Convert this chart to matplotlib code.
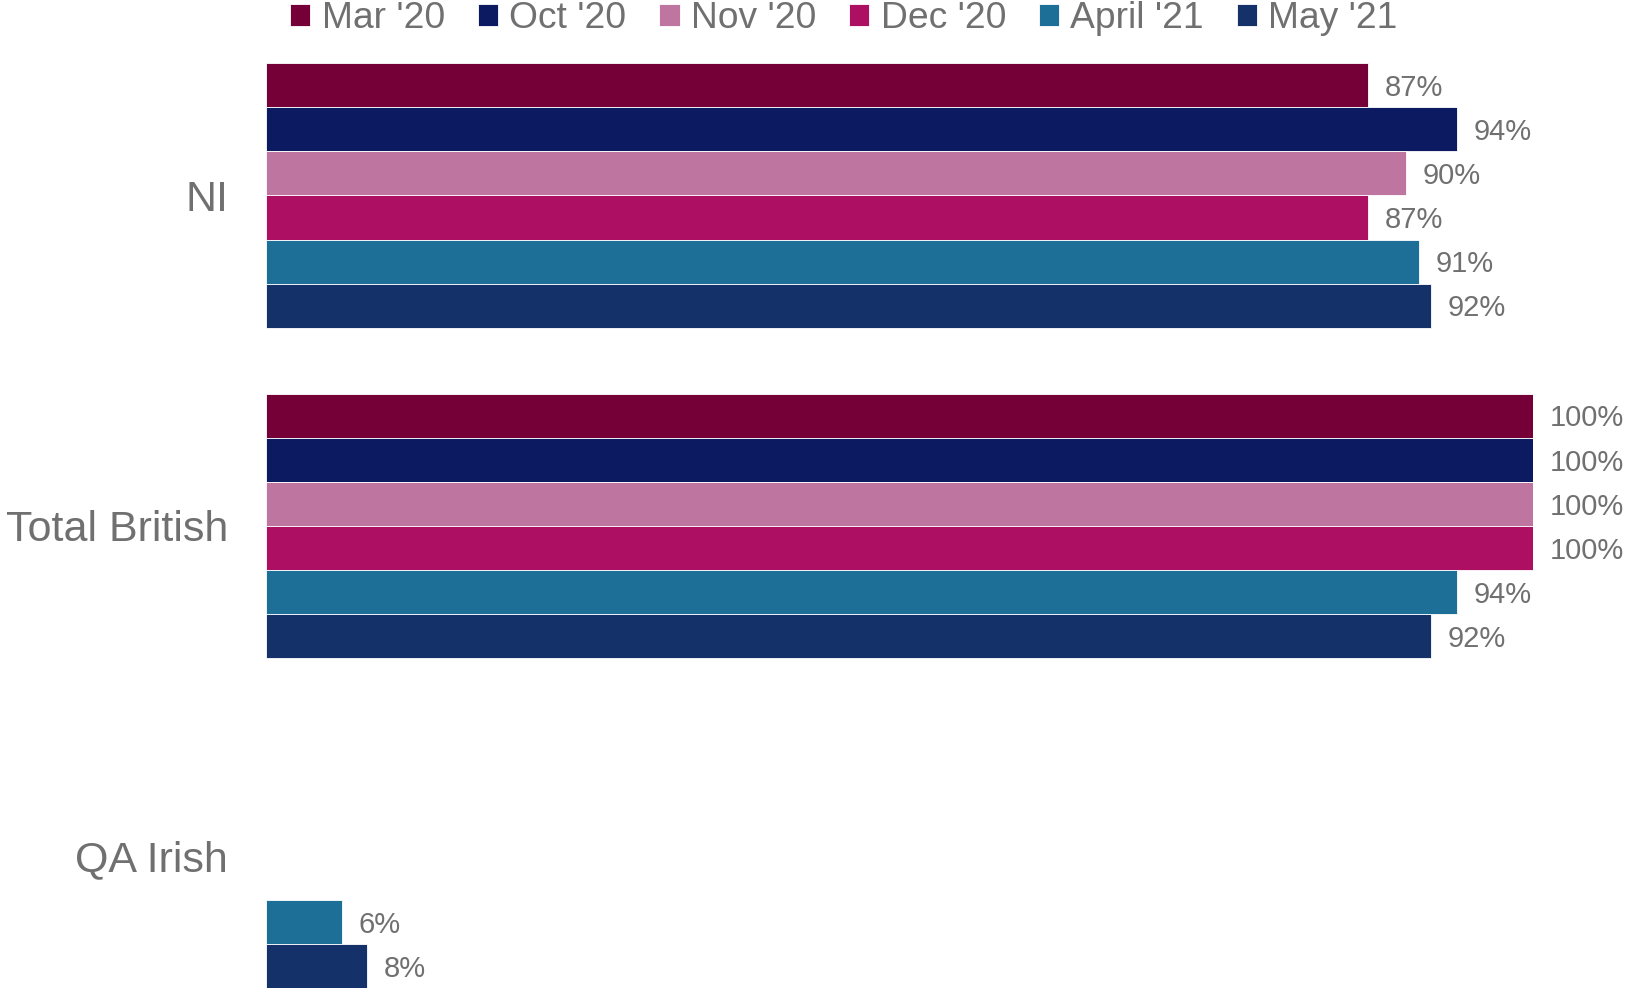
import matplotlib.pyplot as plt
import numpy as np

plt.rcParams['font.family'] = ['Liberation Sans', 'DejaVu Sans']

categories = ["NI", "Total British", "QA Irish"]
series = ["Mar '20", "Oct '20", "Nov '20", "Dec '20", "April '21", "May '21"]
colors = ["#750037", "#0C1A62", "#BE75A0", "#AD1063", "#1D6F97", "#15316A"]

mar_20 = [87, 100, None]
oct_20 = [94, 100, None]
nov_20 = [90, 100, None]
dec_20 = [87, 100, None]
apr_21 = [91, 94, 6]
may_21 = [92, 92, 8]
values = [mar_20, oct_20, nov_20, dec_20, apr_21, may_21]

text_color = "#707070"

fig = plt.figure(figsize=(16.26, 9.9), dpi=100)
ax = fig.add_axes([0.1633, 0.0018, 0.7793, 0.9342])

y = np.arange(len(categories))
h = 0.8 / len(series)

for i, (name, vals, col) in enumerate(zip(series, values, colors)):
    pos = y - 0.4 + h * (i + 0.5)
    vv = [v if v is not None else 0 for v in vals]
    bars = ax.barh(pos, vv, height=h, color=col, edgecolor="white",
                   linewidth=0.6, label=name)
    for b, v in zip(bars, vals):
        if v is None:
            continue
        ax.annotate(f"{v}%", (b.get_width(), b.get_y() + b.get_height() / 2),
                    xytext=(12, -2), textcoords="offset points",
                    va="center", ha="left", fontsize=21, color=text_color)

ax.set_xlim(0, 100)
ax.set_ylim(2.4, -0.4)
ax.set_yticks(y)
ax.set_yticklabels(categories, fontsize=31, color=text_color)
ax.tick_params(axis="y", length=0, pad=27)
ax.set_xticks([])
for s in ax.spines.values():
    s.set_visible(False)

fig.legend(loc="center", bbox_to_anchor=(0.519, 0.981), ncol=6, frameon=False,
           fontsize=26.8, labelcolor=text_color, handlelength=0.55,
           handleheight=0.55, handletextpad=0.3, columnspacing=0.88,
           borderaxespad=0)

fig.savefig("out.png", dpi=100)
